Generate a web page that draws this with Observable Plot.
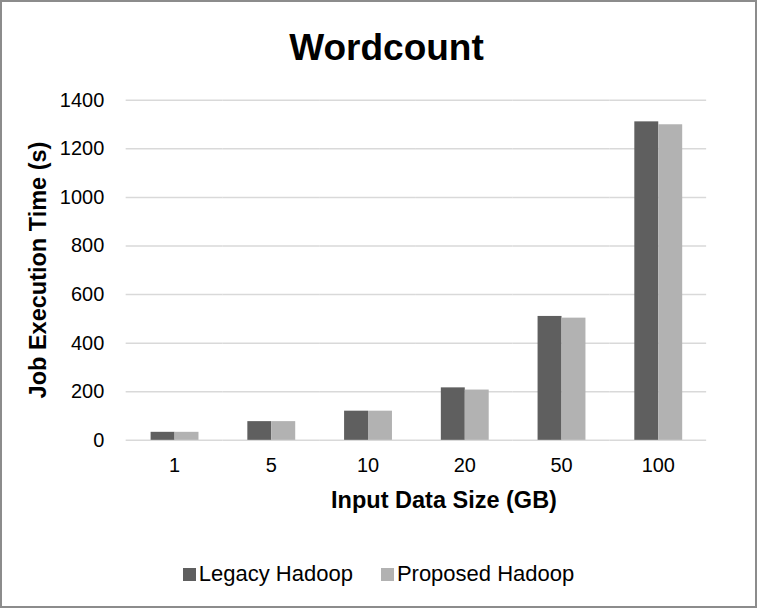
<!DOCTYPE html>
<html>
<head>
<meta charset="utf-8">
<script src="https://cdn.jsdelivr.net/npm/d3@7"></script>
<script src="https://cdn.jsdelivr.net/npm/@observablehq/plot@0.6"></script>
<style>
  html, body { margin: 0; padding: 0; background: #fff; }
  #frame { position: relative; width: 757px; height: 608px; box-sizing: border-box; border: 2px solid #8c8c8c; overflow: hidden; font-family: "Liberation Sans", Arial, sans-serif; color: #000; }
  #plot { position: absolute; left: -2px; top: -2px; }
  #title { position: absolute; left: 16px; right: 0; top: 25px; text-align: center; font-weight: bold; font-size: 37px; }
  #ylabel { position: absolute; left: 36px; top: 268px; transform: translate(-50%, -50%) rotate(-90deg); white-space: nowrap; font-weight: bold; font-size: 23.5px; }
  #xlabel { position: absolute; left: 442px; top: 485px; transform: translateX(-50%); white-space: nowrap; font-weight: bold; font-size: 23.5px; }
  #legend { position: absolute; left: 0; right: 0; top: 559px; display: flex; justify-content: center; gap: 28px; font-size: 22px; }
  .item { display: flex; align-items: center; }
  .sw { width: 13px; height: 13px; margin-right: 3px; }
</style>
</head>
<body>
<div id="frame">
  <div id="plot"></div>
  <div id="title">Wordcount</div>
  <div id="ylabel">Job Execution Time (s)</div>
  <div id="xlabel">Input Data Size (GB)</div>
  <div id="legend"></div>
</div>
<script>
const sizes = ["1", "5", "10", "20", "50", "100"];
const seriesNames = ["Legacy Hadoop", "Proposed Hadoop"];
const legacy = [33, 77, 120, 216, 510, 1311];
const proposed = [33, 77, 120, 207, 503, 1299];
const yTicks = [0, 200, 400, 600, 800, 1000, 1200, 1400];
const colors = ["#5f5f5f", "#b2b2b2"];

const rows = [];
sizes.forEach((s, i) => {
  rows.push({size: s, series: seriesNames[0], value: legacy[i]});
  rows.push({size: s, series: seriesNames[1], value: proposed[i]});
});

const chart = Plot.plot({
  width: 757,
  height: 608,
  marginLeft: 123,
  marginRight: 47,
  marginTop: 100,
  marginBottom: 167,
  style: {fontFamily: "'Liberation Sans', Arial, sans-serif", fontSize: "20px", color: "#000", background: "transparent"},
  fx: {domain: sizes, padding: 0, label: null, tickSize: 0, tickPadding: 18, axis: "bottom"},
  x: {domain: seriesNames, axis: null, paddingInner: 0, paddingOuter: 1},
  y: {domain: [0, 1400], ticks: yTicks, tickFormat: d => String(d), tickSize: 0, tickPadding: 22, label: null},
  color: {domain: seriesNames, range: colors},
  marks: [
    Plot.ruleY(yTicks, {stroke: "#d9d9d9", strokeWidth: 1.5}),
    Plot.barY(rows, {fx: "size", x: "series", y: "value", fill: "series"})
  ]
});
document.getElementById("plot").appendChild(chart);

const legend = document.getElementById("legend");
seriesNames.forEach((n, i) => {
  const it = document.createElement("div");
  it.className = "item";
  const sw = document.createElement("span");
  sw.className = "sw";
  sw.style.background = colors[i];
  const t = document.createElement("span");
  t.textContent = n;
  it.appendChild(sw);
  it.appendChild(t);
  legend.appendChild(it);
});
</script>
</body>
</html>
